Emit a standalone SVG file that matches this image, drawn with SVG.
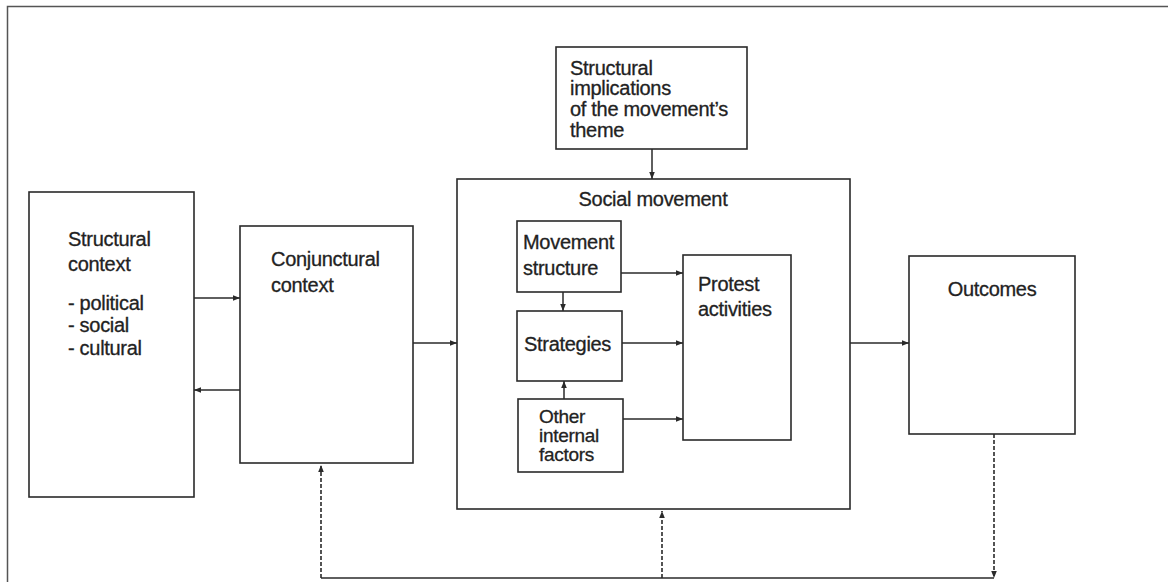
<svg xmlns="http://www.w3.org/2000/svg" width="1168" height="582" viewBox="0 0 1168 582">
<style>
.box{fill:none;stroke:#2a2a2a;stroke-width:1.6}
.frame{fill:none;stroke:#555;stroke-width:1.5}
.t{font-family:"Liberation Sans",Arial,sans-serif;font-size:20px;fill:#222;stroke:#222;stroke-width:0.3;letter-spacing:-0.3px}
.s{font-size:19px}
.c{stroke:#2a2a2a;stroke-width:1.5;fill:none}
.d{stroke:#2a2a2a;stroke-width:1.6;fill:none;stroke-dasharray:4 2}
</style>
<defs>
<marker id="ah" viewBox="0 0 10 10" refX="10" refY="5" markerWidth="7" markerHeight="7" markerUnits="userSpaceOnUse" orient="auto">
<path d="M0,1 L10,5 L0,9 z" fill="#2a2a2a"/>
</marker>
</defs>
<rect class="frame" x="7.5" y="6.5" width="1170" height="590"/>
<g id="structural-context">
<rect class="box" x="29" y="192" width="165" height="305"/>
<text class="t" x="68" y="246">Structural</text>
<text class="t" x="68" y="271">context</text>
<text class="t" x="68" y="310">- political</text>
<text class="t" x="68" y="332">- social</text>
<text class="t" x="68" y="355">- cultural</text>
</g>
<g id="conjunctural-context">
<rect class="box" x="240" y="226" width="173" height="237"/>
<text class="t" x="271" y="266">Conjunctural</text>
<text class="t" x="271" y="292">context</text>
</g>
<g id="structural-implications">
<rect class="box" x="556" y="47" width="191" height="102"/>
<text class="t" x="570" y="75">Structural</text>
<text class="t" x="570" y="95">implications</text>
<text class="t" x="570" y="116">of the movement’s</text>
<text class="t" x="570" y="137">theme</text>
</g>
<g id="social-movement">
<rect class="box" x="457" y="179" width="393" height="330"/>
<text class="t" x="653" y="206" text-anchor="middle">Social movement</text>
</g>
<g id="movement-structure">
<rect class="box" x="517" y="221" width="104" height="71"/>
<text class="t" x="523" y="249">Movement</text>
<text class="t" x="523" y="275">structure</text>
</g>
<g id="strategies">
<rect class="box" x="517" y="311" width="105" height="70"/>
<text class="t" x="524" y="351">Strategies</text>
</g>
<g id="other-internal-factors">
<rect class="box" x="518" y="399" width="105" height="73"/>
<text class="t s" x="539" y="423">Other</text>
<text class="t s" x="539" y="442">internal</text>
<text class="t s" x="539" y="461">factors</text>
</g>
<g id="protest-activities">
<rect class="box" x="683" y="255" width="108" height="185"/>
<text class="t" x="698" y="291">Protest</text>
<text class="t" x="698" y="316">activities</text>
</g>
<g id="outcomes">
<rect class="box" x="909" y="256" width="166" height="178"/>
<text class="t" x="992" y="296" text-anchor="middle">Outcomes</text>
</g>
<g id="connectors">
<line class="c" x1="194" y1="298" x2="240" y2="298" marker-end="url(#ah)"/>
<line class="c" x1="240" y1="390" x2="194" y2="390" marker-end="url(#ah)"/>
<line class="c" x1="413" y1="343" x2="457" y2="343" marker-end="url(#ah)"/>
<line class="c" x1="652" y1="149" x2="652" y2="179" marker-end="url(#ah)"/>
<line class="c" x1="621" y1="273" x2="683" y2="273" marker-end="url(#ah)"/>
<line class="c" x1="563" y1="292" x2="563" y2="311" marker-end="url(#ah)"/>
<line class="c" x1="622" y1="343" x2="683" y2="343" marker-end="url(#ah)"/>
<line class="c" x1="564" y1="399" x2="564" y2="381" marker-end="url(#ah)"/>
<line class="c" x1="623" y1="419" x2="683" y2="419" marker-end="url(#ah)"/>
<line class="c" x1="850" y1="343" x2="909" y2="343" marker-end="url(#ah)"/>
<line class="d" x1="994" y1="434" x2="994" y2="578" marker-end="url(#ah)"/>
<line class="c" x1="321" y1="578" x2="994" y2="578"/>
<line class="d" x1="321" y1="578" x2="321" y2="465" marker-end="url(#ah)"/>
<line class="d" x1="662" y1="578" x2="662" y2="511" marker-end="url(#ah)"/>
</g>
</svg>
